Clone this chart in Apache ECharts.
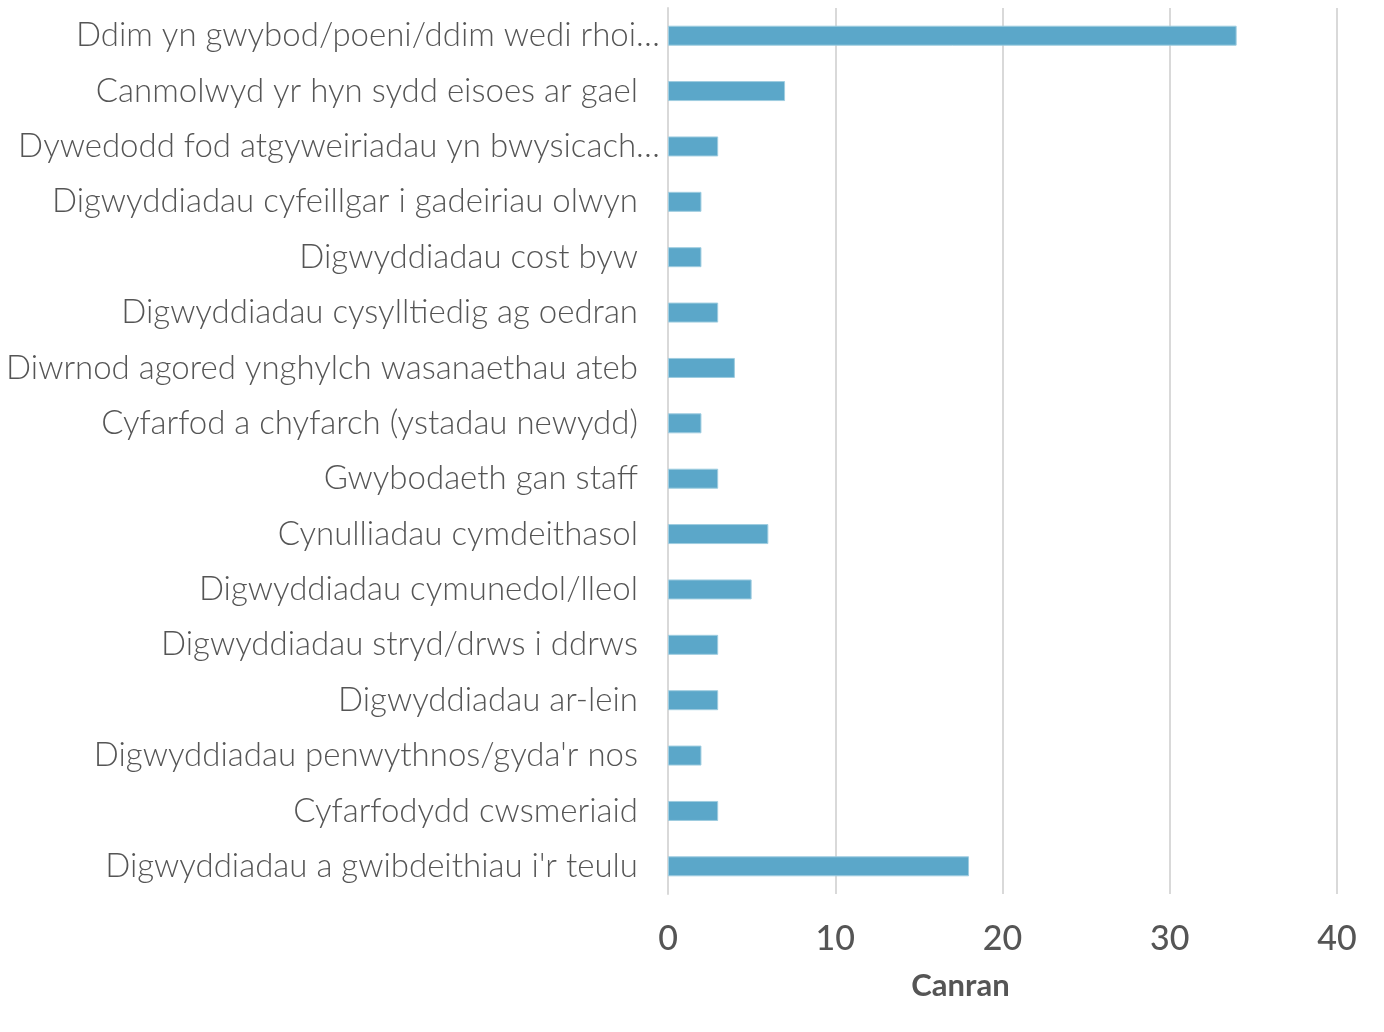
<!DOCTYPE html>
<html><head><meta charset="utf-8">
<script src="https://cdn.jsdelivr.net/npm/echarts@6/dist/echarts.min.js"></script>
<style>html,body{margin:0;padding:0;background:#fff}#c{width:1384px;height:1032px}</style>
</head><body><div id="c"></div>
<script>
var categories = [
  "Ddim yn gwybod/poeni/ddim wedi rhoi…",
  "Canmolwyd yr hyn sydd eisoes ar gael",
  "Dywedodd fod atgyweiriadau yn bwysicach…",
  "Digwyddiadau cyfeillgar i gadeiriau olwyn",
  "Digwyddiadau cost byw",
  "Digwyddiadau cysylltiedig ag oedran",
  "Diwrnod agored ynghylch wasanaethau ateb",
  "Cyfarfod a chyfarch (ystadau newydd)",
  "Gwybodaeth gan staff",
  "Cynulliadau cymdeithasol",
  "Digwyddiadau cymunedol/lleol",
  "Digwyddiadau stryd/drws i ddrws",
  "Digwyddiadau ar-lein",
  "Digwyddiadau penwythnos/gyda'r nos",
  "Cyfarfodydd cwsmeriaid",
  "Digwyddiadau a gwibdeithiau i'r teulu"
];
var values = [34, 7, 3, 2, 2, 3, 4, 2, 3, 6, 5, 3, 3, 2, 3, 18];
var xTicks = [0, 10, 20, 30, 40];
var axisName = "Canran";

var chart = echarts.init(document.getElementById('c'));
chart.setOption({
  animation: false,
  grid: {left: 668, right: 47, top: 8, bottom: 138, containLabel: false},
  xAxis: {
    type: 'value', min: xTicks[0], max: xTicks[xTicks.length-1], interval: 10,
    name: axisName, nameLocation: 'middle', nameGap: 76,
    nameTextStyle: {fontFamily: 'Lato', fontSize: 31, fontWeight: 'bold', color: '#555', padding: [0, 84, 0, 0]},
    axisLine: {show: false}, axisTick: {show: false},
    axisLabel: {fontFamily: 'Lato', fontSize: 34, fontWeight: 500, color: '#555', margin: 28},
    splitLine: {lineStyle: {color: '#d9d9d9', width: 2}}
  },
  yAxis: {
    type: 'category', data: categories, inverse: true,
    axisLine: {show: true, lineStyle: {color: '#d9d9d9', width: 2}},
    axisTick: {show: false},
    axisLabel: {
      fontFamily: 'Lato', fontWeight: 300, fontSize: 33, color: '#555', margin: 30,
      formatter: function (v) { return v.charAt(v.length - 1) === '…' ? '{t|' + v + '}' : v; },
      rich: {t: {fontFamily: 'Lato', fontWeight: 300, fontSize: 33, color: '#555', padding: [0, -22, 0, 0]}}
    }
  },
  series: [{
    type: 'bar', data: values, barWidth: 20,
    itemStyle: {color: '#5ba7c9', borderColor: '#9fcde0', borderWidth: 1}
  }]
});
</script></body></html>
